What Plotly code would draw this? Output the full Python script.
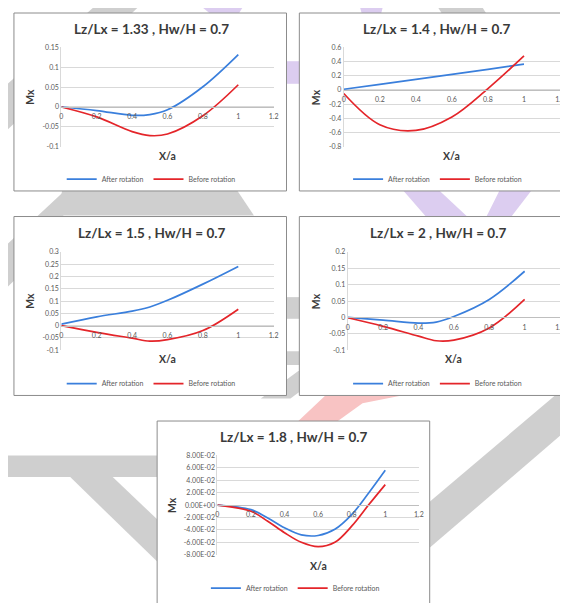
import plotly.graph_objects as go

# ---------------- data ----------------
titles = ["Lz/Lx = 1.33 , Hw/H = 0.7", "Lz/Lx = 1.4 , Hw/H = 0.7",
          "Lz/Lx = 1.5 , Hw/H = 0.7", "Lz/Lx = 2 , Hw/H = 0.7",
          "Lz/Lx = 1.8 , Hw/H = 0.7"]
series_names = ["After rotation", "Before rotation"]

p1_x = [0, 0.2, 0.4, 0.5, 0.6, 0.8, 1]
p1_after = [0, -0.009, -0.021, -0.019, -0.007, 0.051, 0.132]
p1_before = [0, -0.025, -0.062, -0.072, -0.068, -0.022, 0.056]

p2_x = [0, 0.2, 0.4, 0.6, 0.8, 1]
p2_after = [0.01, 0.08, 0.15, 0.22, 0.29, 0.365]
p2_before = [-0.05, -0.49, -0.57, -0.38, 0.02, 0.48]

p3_x = [0, 0.2, 0.4, 0.5, 0.6, 0.8, 1]
p3_after = [0.006, 0.036, 0.059, 0.076, 0.103, 0.169, 0.241]
p3_before = [0, -0.027, -0.051, -0.063, -0.057, -0.02, 0.067]

p4_x = [0, 0.2, 0.4, 0.5, 0.6, 0.8, 1]
p4_after = [0, -0.008, -0.017, -0.014, 0.003, 0.055, 0.141]
p4_before = [-0.001, -0.027, -0.057, -0.071, -0.069, -0.032, 0.055]

p5_x = [0, 0.2, 0.3, 0.4, 0.5, 0.6, 0.7, 0.8, 0.9, 1]
p5_after = [0, -0.0074, -0.0207, -0.0366, -0.048, -0.049, -0.039, -0.0154, 0.019, 0.056]
p5_before = [0, -0.010, -0.026, -0.0445, -0.060, -0.067, -0.060, -0.034, 0.0, 0.033]

x_tickvals = [0, 0.2, 0.4, 0.6, 0.8, 1, 1.2]
x_ticktext = ["0", "0.2", "0.4", "0.6", "0.8", "1", "1.2"]

p1_yticks = [-0.1, -0.05, 0, 0.05, 0.1, 0.15]
p1_ytext = ["-0.1", "-0.05", "0", "0.05", "0.1", "0.15"]
p2_yticks = [-0.8, -0.6, -0.4, -0.2, 0, 0.2, 0.4, 0.6]
p2_ytext = ["-0.8", "-0.6", "-0.4", "-0.2", "0", "0.2", "0.4", "0.6"]
p3_yticks = [-0.1, -0.05, 0, 0.05, 0.1, 0.15, 0.2, 0.25, 0.3]
p3_ytext = ["-0.1", "-0.05", "0", "0.05", "0.1", "0.15", "0.2", "0.25", "0.3"]
p4_yticks = [-0.1, -0.05, 0, 0.05, 0.1, 0.15, 0.2]
p4_ytext = ["-0.1", "-0.05", "0", "0.05", "0.1", "0.15", "0.2"]
p5_yticks = [-0.08, -0.06, -0.04, -0.02, 0, 0.02, 0.04, 0.06, 0.08]
p5_ytext = ["-8.00E-02", "-6.00E-02", "-4.00E-02", "-2.00E-02", "0.00E+00",
            "2.00E-02", "4.00E-02", "6.00E-02", "8.00E-02"]

# ---------------- layout helpers ----------------
# the page body has an 8px margin, so the figure is offset by 8px inside the window
OFF = 8
W, H = 560, 595
def px(x):
    return (x - OFF) / W
def py(y):
    return 1 - (y - OFF) / H

BLUE = "#3a7fdc"
RED = "#e4252a"
TICK = "#595959"
FONT = "Lato, 'Open Sans', sans-serif"

panels = [
    dict(x=p1_x, a=p1_after, b=p1_before, yt=p1_yticks, ytt=p1_ytext,
         area=(60, 275, 43, 144), box=(12, 8, 288, 189), tx=151, lx=151, ly=177, ty=24, xty=153, ytx=28),
    dict(x=p2_x, a=p2_after, b=p2_before, yt=p2_yticks, ytt=p2_ytext,
         area=(346, 565, 43, 144), box=(301, 8, 580, 189), tx=440, lx=441, ly=177, ty=24, xty=153, ytx=318),
    dict(x=p3_x, a=p3_after, b=p3_before, yt=p3_yticks, ytt=p3_ytext,
         area=(60, 275, 251, 351), box=(12, 215, 288, 397), tx=151, lx=151, ly=385, ty=232, xty=360, ytx=28),
    dict(x=p4_x, a=p4_after, b=p4_before, yt=p4_yticks, ytt=p4_ytext,
         area=(350, 565, 251, 351), box=(301, 215, 580, 397), tx=441, lx=441, ly=385, ty=232, xty=360, ytx=318),
    dict(x=p5_x, a=p5_after, b=p5_before, yt=p5_yticks, ytt=p5_ytext,
         area=(218, 422, 458, 559), box=(157, 423, 433, 615), tx=295, lx=297, ly=593, ty=439, xty=570, ytx=172),
]

fig = go.Figure()
shapes = []
annotations = []

# watermark (decorative background)
GRAY = "#cfcfcf"
PURPLE = "#dccdf0"
PINK = "#f8c3c3"
wm = [
    (GRAY, [(95, 0), (140, 0), (0, 132), (0, 85)]),
    (GRAY, [(62, 184), (235, 184), (255, 214), (55, 214)]),
    (GRAY, [(0, 248), (62, 190), (62, 232), (0, 292)]),
    (GRAY, [(0, 458), (157, 458), (157, 480), (0, 480)]),
    (GRAY, [(69, 480), (112, 480), (157, 523), (157, 566)]),
    (GRAY, [(433, 505), (580, 380), (580, 425), (433, 552)]),
    (GRAY, [(280, 297), (305, 297), (305, 319), (280, 319)]),
    (GRAY, [(280, 352), (305, 352), (305, 366), (280, 366)]),
    (GRAY, [(262, 400), (292, 400), (330, 372), (300, 372)]),
    (GRAY, [(440, 0), (485, 0), (490, 8), (445, 8)]),
    (PURPLE, [(285, 57), (305, 57), (305, 80), (285, 80)]),
    (PURPLE, [(200, 0), (245, 0), (240, 8), (210, 8)]),
    (PURPLE, [(362, 0), (386, 0), (384, 8), (364, 8)]),
    (PURPLE, [(404, 186), (440, 186), (472, 216), (430, 216)]),
    (PURPLE, [(505, 186), (538, 186), (515, 216), (490, 216)]),
    (PINK, [(300, 423), (340, 423), (365, 405), (415, 395), (415, 372), (340, 385)]),
]
for col, pts in wm:
    path = "M " + " L ".join(f"{px(x):.4f},{py(y):.4f}" for x, y in pts) + " Z"
    shapes.append(dict(type="path", path=path, xref="paper", yref="paper",
                       fillcolor=col, line=dict(width=0), layer="below"))

for i, p in enumerate(panels):
    n = "" if i == 0 else str(i + 1)
    xa, ya = "x" + n, "y" + n
    leg = "legend" + n
    x0, x1, yt, yb = p["area"]
    ymin, ymax = p["yt"][0], p["yt"][-1]
    dom_y = [py(yb), py(yt)]
    zero_pos = dom_y[0] + (0 - ymin) / (ymax - ymin) * (dom_y[1] - dom_y[0])

    fig.add_trace(go.Scatter(x=p["x"], y=p["a"], mode="lines", name=series_names[0],
                             line=dict(color=BLUE, width=1.7, shape="spline", smoothing=1.0),
                             xaxis=xa, yaxis=ya, legend=leg, hoverinfo="skip"))
    fig.add_trace(go.Scatter(x=p["x"], y=p["b"], mode="lines", name=series_names[1],
                             line=dict(color=RED, width=1.7, shape="spline", smoothing=1.0),
                             xaxis=xa, yaxis=ya, legend=leg, hoverinfo="skip"))

    fig.layout["xaxis" + n] = dict(
        domain=[px(x0), min(px(x1), 1)], range=[0, 1.2], anchor="free", position=zero_pos,
        tickvals=x_tickvals, ticktext=x_ticktext, showgrid=False, zeroline=False,
        showline=True, linecolor="#bfbfbf", linewidth=1,
        ticks="outside", ticklen=3, tickcolor="rgba(0,0,0,0)",
        tickfont=dict(size=7, color=TICK, family=FONT), fixedrange=True)
    fig.layout["yaxis" + n] = dict(
        domain=dom_y, range=[ymin, ymax], anchor=xa,
        tickvals=p["yt"], ticktext=p["ytt"], showgrid=True, gridcolor="#d9d9d9", gridwidth=1,
        zeroline=False, showline=True, linecolor="#d9d9d9", linewidth=1,
        ticks="", tickfont=dict(size=7, color=TICK, family=FONT), fixedrange=True)

    fig.layout[leg] = dict(orientation="h", x=px(p["lx"]), y=py(p["ly"]),
                           xanchor="center", yanchor="middle",
                           font=dict(size=7, color=TICK, family=FONT),
                           bgcolor="rgba(0,0,0,0)", itemwidth=30, tracegroupgap=0)

    bx0, by0, bx1, by1 = p["box"]
    shapes.append(dict(type="rect", xref="paper", yref="paper",
                       x0=px(bx0), x1=px(bx1), y0=py(by1), y1=py(by0),
                       fillcolor="white", line=dict(color="#8c8c8c", width=1), layer="below"))

    annotations.append(dict(text="<b>" + titles[i] + "</b>", xref="paper", yref="paper",
                            x=px(p["tx"]), y=py(p["ty"]),
                            xanchor="center", yanchor="middle", showarrow=False,
                            font=dict(size=13.5, color="#3a3a3a", family=FONT)))
    annotations.append(dict(text="<b>X/a</b>", xref="paper", yref="paper",
                            x=px((x0 + x1) / 2), y=py(p["xty"]),
                            xanchor="center", yanchor="middle", showarrow=False,
                            font=dict(size=10.5, color="#3a3a3a", family=FONT)))
    annotations.append(dict(text="<b>Mx</b>", xref="paper", yref="paper",
                            x=px(p["ytx"]), y=py((yt + yb) / 2), textangle=-90,
                            xanchor="center", yanchor="middle", showarrow=False,
                            font=dict(size=10.5, color="#3a3a3a", family=FONT)))

fig.update_layout(width=W, height=H, margin=dict(l=0, r=0, t=0, b=0),
                  paper_bgcolor="white", plot_bgcolor="rgba(0,0,0,0)",
                  shapes=shapes, annotations=annotations, showlegend=True)

fig.write_html("out.html")
